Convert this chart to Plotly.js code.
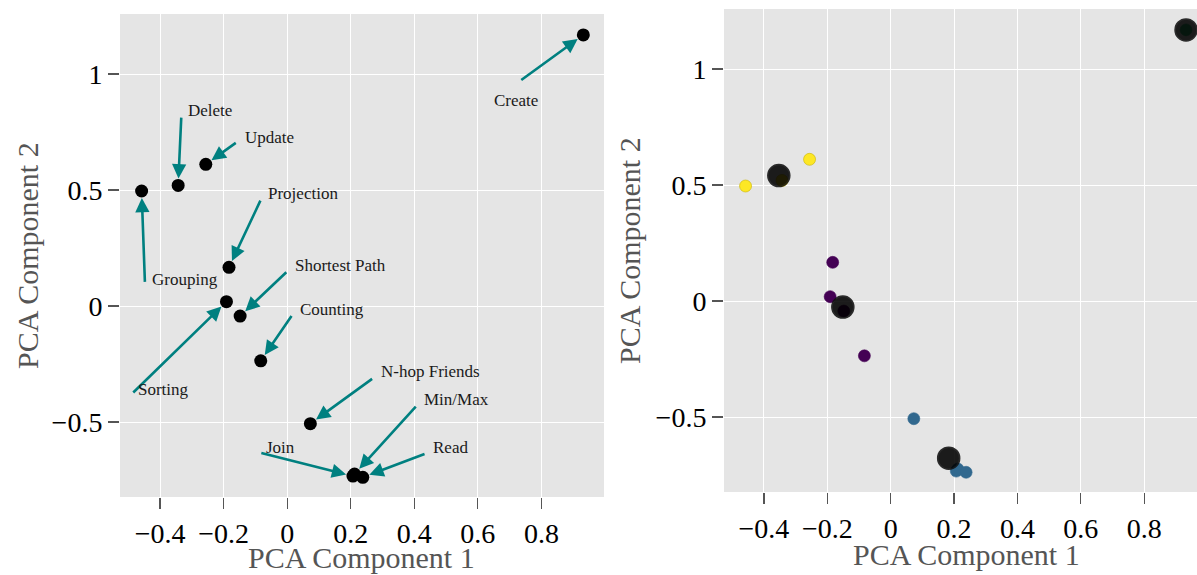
<!DOCTYPE html>
<html>
<head>
<meta charset="utf-8">
<script src="https://cdn.plot.ly/plotly-3.0.1.min.js"></script>
<style>html,body{margin:0;padding:0;overflow:hidden;background:#fff;}#chart{width:1197px;height:575px;}</style>
</head>
<body>
<div id="chart"></div>
<script>
// ---- data ----
const names = ['Create','Delete','Update','Grouping','Projection','Sorting','Shortest Path','Counting','N-hop Friends','Min/Max','Join','Read'];
const pc1 = [0.932, -0.343, -0.256, -0.458, -0.183, -0.191, -0.148, -0.083, 0.073, 0.212, 0.207, 0.238];
const pc2 = [1.169, 0.520, 0.611, 0.496, 0.167, 0.019, -0.043, -0.236, -0.507, -0.724, -0.733, -0.738];
const cluster = [2, 3, 3, 3, 0, 0, 0, 0, 1, 1, 1, 1];
const clusterColors = ['#440154', '#31688e', '#35b779', '#fde725'];
const centerX = [-0.151, 0.183, 0.932, -0.353];
const centerY = [-0.026, -0.677, 1.169, 0.541];
const xTicks = [-0.4, -0.2, 0, 0.2, 0.4, 0.6, 0.8];
const yTicks = [-0.5, 0, 0.5, 1];
const xTitle = 'PCA Component 1';
const yTitle = 'PCA Component 2';

// ---- label placement (arrow tail and text anchor, left-panel data units) ----
const labelTail = {
  'Create': [0.732, 0.970], 'Delete': [-0.333, 0.819], 'Update': [-0.157, 0.708],
  'Grouping': [-0.4475, 0.098], 'Projection': [-0.082, 0.461], 'Sorting': [-0.489, -0.379],
  'Shortest Path': [0.002, 0.152], 'Counting': [0.017, -0.036], 'N-hop Friends': [0.272, -0.309],
  'Min/Max': [0.409, -0.427], 'Join': [-0.086, -0.632], 'Read': [0.437, -0.635]
};
const labelText = {
  'Create': [0.645, 0.888], 'Delete': [-0.318, 0.841], 'Update': [-0.139, 0.728],
  'Grouping': [-0.431, 0.113], 'Projection': [-0.067, 0.487], 'Sorting': [-0.476, -0.358],
  'Shortest Path': [0.017, 0.177], 'Counting': [0.034, -0.014], 'N-hop Friends': [0.289, -0.284],
  'Min/Max': [0.423, -0.401], 'Join': [-0.072, -0.611], 'Read': [0.453, -0.611]
};

const FONT = 'Liberation Serif, Times New Roman, serif';
const TEAL = '#008080';
const W = 1197, H = 575;

const traces = [
  {
    type: 'scatter', mode: 'markers', x: pc1, y: pc2, xaxis: 'x', yaxis: 'y',
    marker: {color: '#000000', size: 13}, hoverinfo: 'text', text: names, showlegend: false
  },
  {
    type: 'scatter', mode: 'markers', x: pc1, y: pc2, xaxis: 'x2', yaxis: 'y2',
    marker: {
      color: cluster.map(c => clusterColors[c]), size: 12,
      line: {width: 0.6, color: cluster.map(c => c === 3 ? '#c9b300' : clusterColors[c])}
    },
    hoverinfo: 'text', text: names, showlegend: false
  },
  {
    type: 'scatter', mode: 'markers', x: centerX, y: centerY, xaxis: 'x2', yaxis: 'y2',
    marker: {color: '#000000', size: 22, opacity: 0.88, line: {width: 1.5, color: '#111111'}},
    hoverinfo: 'skip', showlegend: false
  }
];

const annotations = [];
names.forEach((n, i) => {
  const t = labelTail[n], p = labelText[n];
  annotations.push({
    xref: 'x', yref: 'y', axref: 'x', ayref: 'y',
    x: pc1[i], y: pc2[i], ax: t[0], ay: t[1], text: '',
    showarrow: true, arrowhead: 2, arrowsize: 1.1, arrowwidth: 2.6, arrowcolor: TEAL, standoff: 7
  });
  annotations.push({
    xref: 'x', yref: 'y', x: p[0], y: p[1], text: n, showarrow: false,
    xanchor: 'left', yanchor: 'middle', font: {family: FONT, size: 17, color: '#1a1a1a'}
  });
});

// axis titles (placed in pixels of the figure)
const titleFont = {family: FONT, size: 30, color: '#555555'};
function pxTitle(text, px, py, angle) {
  return {xref: 'paper', yref: 'paper', x: px / W, y: 1 - py / H, text: text, showarrow: false,
          xanchor: 'center', yanchor: 'middle', textangle: angle, font: titleFont};
}
annotations.push(pxTitle(xTitle, 361, 557, 0));
annotations.push(pxTitle(xTitle, 966, 554, 0));
annotations.push(pxTitle(yTitle, 28, 256, -90));
annotations.push(pxTitle(yTitle, 629, 251, -90));

function axisX(domain, range, anchor) {
  return {
    domain: domain, range: range, anchor: anchor, tickvals: xTicks,
    showgrid: true, gridcolor: '#ffffff', gridwidth: 1, zeroline: false, showline: false,
    ticks: 'outside', ticklen: 11, tickwidth: 1.2, tickcolor: '#555555',
    tickfont: {family: FONT, size: 28, color: '#000000'},
    fixedrange: true
  };
}
function axisY(domain, range, anchor) {
  return {
    domain: domain, range: range, anchor: anchor, tickvals: yTicks,
    showgrid: true, gridcolor: '#ffffff', gridwidth: 1, zeroline: false, showline: false,
    ticks: 'outside', ticklen: 11, tickwidth: 1.2, tickcolor: '#555555',
    tickfont: {family: FONT, size: 28, color: '#000000'},
    fixedrange: true
  };
}

const layout = {
  width: W, height: H,
  margin: {l: 0, r: 0, t: 0, b: 0, pad: 0},
  paper_bgcolor: '#ffffff', plot_bgcolor: '#e5e5e5',
  showlegend: false,
  xaxis: axisX([120 / W, 604 / W], [-0.526, 0.997], 'y'),
  yaxis: axisY([1 - 497 / H, 1 - 14 / H], [-0.823, 1.259], 'x'),
  xaxis2: axisX([724 / W, 1], [-0.526, 0.9666], 'y2'),
  yaxis2: axisY([1 - 492 / H, 1 - 9 / H], [-0.823, 1.259], 'x2'),
  annotations: annotations
};

Plotly.newPlot('chart', traces, layout, {displayModeBar: false, staticPlot: true});
</script>
</body>
</html>
